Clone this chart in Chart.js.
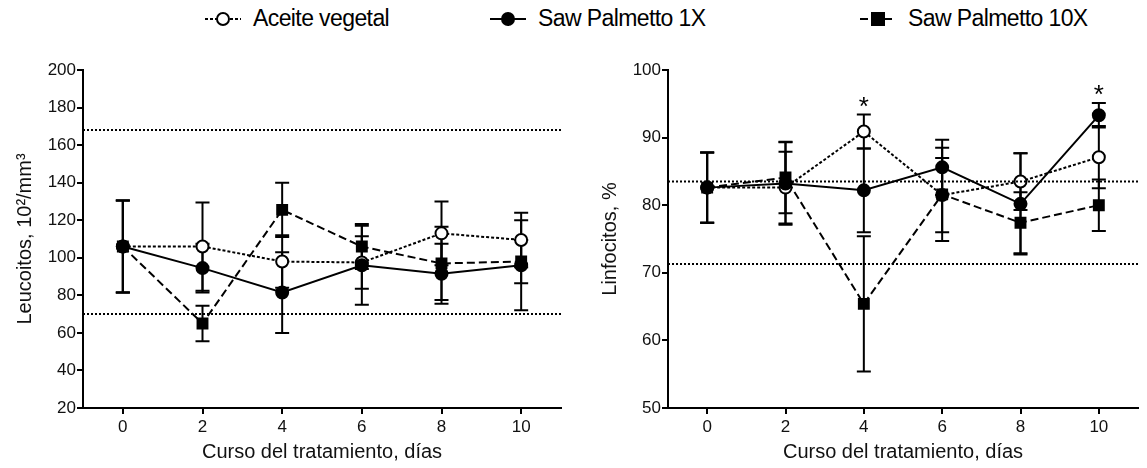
<!DOCTYPE html>
<html lang="es">
<head>
<meta charset="UTF-8">
<title>Leucocitos y linfocitos</title>
<script src="https://cdn.jsdelivr.net/npm/chart.js"></script>
<style>
    body { margin: 0; width: 1147px; height: 468px; background: #fff; position: relative; overflow: hidden;
           font-family: "Liberation Sans", Arial, sans-serif; color: #000; }
    .item { position: absolute; top: 5px; display: flex; align-items: center; font-size: 23px; letter-spacing: -0.6px; white-space: nowrap; }
    .item svg { margin-right: 12px; }
    #g1 { position: absolute; left: 0; top: 40px; }
    #g2 { position: absolute; left: 585px; top: 40px; }
</style>
</head>
<body>
<div class="item" style="left:205px">
    <svg width="36" height="20"><line x1="0" y1="10" x2="36" y2="10" stroke="#000" stroke-width="2" stroke-dasharray="3 2"/><circle cx="18" cy="10" r="6" fill="#fff" stroke="#000" stroke-width="2"/></svg>Aceite vegetal
</div>
<div class="item" style="left:490px">
    <svg width="36" height="20"><line x1="0" y1="10" x2="36" y2="10" stroke="#000" stroke-width="2"/><circle cx="18" cy="10" r="7" fill="#000"/></svg>Saw Palmetto 1X
</div>
<div class="item" style="left:860px">
    <svg width="36" height="20"><line x1="0" y1="10" x2="36" y2="10" stroke="#000" stroke-width="2" stroke-dasharray="8 4"/><rect x="11" y="3" width="14" height="14" fill="#000"/></svg>Saw Palmetto 10X
</div>

<canvas id="g1" width="570" height="428"></canvas>
<canvas id="g2" width="562" height="428"></canvas>

<script>
    // días de tratamiento
    const dias = [0, 2, 4, 6, 8, 10];

    // Leucocitos (10^2/mm^3): media y error
    const leuAceite = [106, 106, 98, 97.5, 113, 109.5];
    const leuAceiteErr = [24.5, 23.5, 14, 14, 17, 14.5];
    const leu1X = [106, 94.5, 81.5, 96, 91.5, 96];
    const leu1XErr = [24.5, 13, 21.5, 21, 16, 24];
    const leu10X = [106, 65, 125.5, 106, 97, 98];
    const leu10XErr = [24.5, 9.5, 14.5, 12, 19.5, 11.5];
    const leuRef = [70, 168];

    // Linfocitos (%): media y error
    const linAceite = [82.6, 82.6, 90.9, 81.5, 83.5, 87.1];
    const linAceiteErr = [5.2, 5.3, 2.5, 5.5, 4.2, 4.6];
    const lin1X = [82.6, 83.2, 82.2, 85.6, 80.2, 93.3];
    const lin1XErr = [5.2, 6.1, 6.2, 4.1, 7.5, 1.8];
    const lin10X = [82.6, 84.1, 65.4, 81.6, 77.4, 80];
    const lin10XErr = [5.2, 5.3, 10, 6.9, 4.5, 3.8];
    const linRef = [71.3, 83.5];
    const linSignif = [4, 10];   // días con asterisco

    const ejeX = [-1, 11];

    function puntos(vals) {
        return dias.map((d, i) => ({ x: d, y: vals[i] }));
    }

    function serie(vals, errs, estilo) {
        return Object.assign({
            data: puntos(vals),
            errores: errs,
            borderColor: '#000',
            borderWidth: 2,
            pointBorderColor: '#000',
            pointBorderWidth: 2,
            tension: 0
        }, estilo);
    }

    function referencia(v) {
        return {
            data: [{ x: ejeX[0], y: v }, { x: ejeX[1], y: v }],
            borderColor: '#000',
            borderWidth: 2,
            borderDash: [2, 2],
            pointRadius: 0
        };
    }

    // barras de error y asteriscos
    const barrasError = {
        id: 'barrasError',
        beforeDatasetsDraw(chart) {
            const { ctx, scales: { x, y } } = chart;
            ctx.save();
            ctx.strokeStyle = '#000';
            ctx.lineWidth = 2;
            ctx.setLineDash([]);
            chart.data.datasets.forEach(ds => {
                if (!ds.errores) return;
                ds.data.forEach((p, i) => {
                    const e = ds.errores[i];
                    const px = x.getPixelForValue(p.x);
                    const yTop = y.getPixelForValue(p.y + e);
                    const yBot = y.getPixelForValue(p.y - e);
                    ctx.beginPath();
                    ctx.moveTo(px, yTop); ctx.lineTo(px, yBot);
                    ctx.moveTo(px - 7, yTop); ctx.lineTo(px + 7, yTop);
                    ctx.moveTo(px - 7, yBot); ctx.lineTo(px + 7, yBot);
                    ctx.stroke();
                });
            });
            ctx.restore();
        },
        afterDatasetsDraw(chart, args, opts) {
            if (!opts.dias) return;
            const { ctx, scales: { x, y } } = chart;
            ctx.save();
            ctx.fillStyle = '#000';
            ctx.font = '26px "Liberation Sans", Arial, sans-serif';
            ctx.textAlign = 'center';
            ctx.textBaseline = 'middle';
            opts.dias.forEach(d => {
                const i = dias.indexOf(d);
                let tope = -Infinity;
                chart.data.datasets.forEach(ds => {
                    if (ds.errores) tope = Math.max(tope, ds.data[i].y + ds.errores[i]);
                });
                ctx.fillText('*', x.getPixelForValue(d), y.getPixelForValue(tope) - 7);
            });
            ctx.restore();
        }
    };

    function opciones(yMin, yMax, paso, etiqueta, tituloY, signif) {
        return {
            responsive: false,
            animation: false,
            layout: { padding: { top: 30, right: 0, left: 0, bottom: 0 } },
            plugins: {
                legend: { display: false },
                tooltip: { enabled: false },
                barrasError: { dias: signif }
            },
            scales: {
                x: {
                    type: 'linear',
                    min: ejeX[0],
                    max: ejeX[1],
                    afterBuildTicks: s => { s.ticks = dias.map(v => ({ value: v })); },
                    afterFit: s => { s.height = 60; },
                    border: { color: '#000', width: 2 },
                    grid: { drawOnChartArea: false, color: '#000', lineWidth: 2, tickLength: 6 },
                    ticks: { color: '#111', font: { size: 17, family: '"Liberation Sans", Arial, sans-serif' }, padding: 3 },
                    title: {
                        display: true,
                        text: 'Curso del tratamiento, días',
                        color: '#111',
                        font: { size: 20, family: '"Liberation Sans", Arial, sans-serif' },
                        padding: { top: 0, bottom: 4 }
                    }
                },
                y: {
                    min: yMin,
                    max: yMax,
                    afterFit: s => { s.width = 83; },
                    border: { color: '#000', width: 2 },
                    grid: { drawOnChartArea: false, color: '#000', lineWidth: 2, tickLength: 6 },
                    ticks: {
                        stepSize: paso,
                        color: '#111',
                        padding: 1,
                        font: { size: 17, family: '"Liberation Sans", Arial, sans-serif' },
                        callback: v => (v % etiqueta === 0 ? v : '')
                    },
                    title: {
                        display: true,
                        text: tituloY,
                        color: '#111',
                        font: { size: 20, family: '"Liberation Sans", Arial, sans-serif' },
                        padding: { top: 13, bottom: 0 }
                    }
                }
            }
        };
    }

    function datos(ref, a, aErr, b, bErr, c, cErr) {
        return {
            datasets: [
                referencia(ref[0]),
                referencia(ref[1]),
                serie(c, cErr, { borderDash: [8, 4], pointStyle: 'rect', pointRadius: 7, pointBackgroundColor: '#000' }),
                serie(b, bErr, { pointStyle: 'circle', pointRadius: 6, pointBackgroundColor: '#000' }),
                serie(a, aErr, { borderDash: [3, 2], pointStyle: 'circle', pointRadius: 6, pointBackgroundColor: '#fff' })
            ]
        };
    }

    new Chart(document.getElementById('g1'), {
        type: 'line',
        data: datos(leuRef, leuAceite, leuAceiteErr, leu1X, leu1XErr, leu10X, leu10XErr),
        options: opciones(20, 200, 10, 20, 'Leucoitos, 10²/mm³', null),
        plugins: [barrasError]
    });

    new Chart(document.getElementById('g2'), {
        type: 'line',
        data: datos(linRef, linAceite, linAceiteErr, lin1X, lin1XErr, lin10X, lin10XErr),
        options: opciones(50, 100, 10, 10, 'Linfocitos, %', linSignif),
        plugins: [barrasError]
    });
</script>
</body>
</html>
